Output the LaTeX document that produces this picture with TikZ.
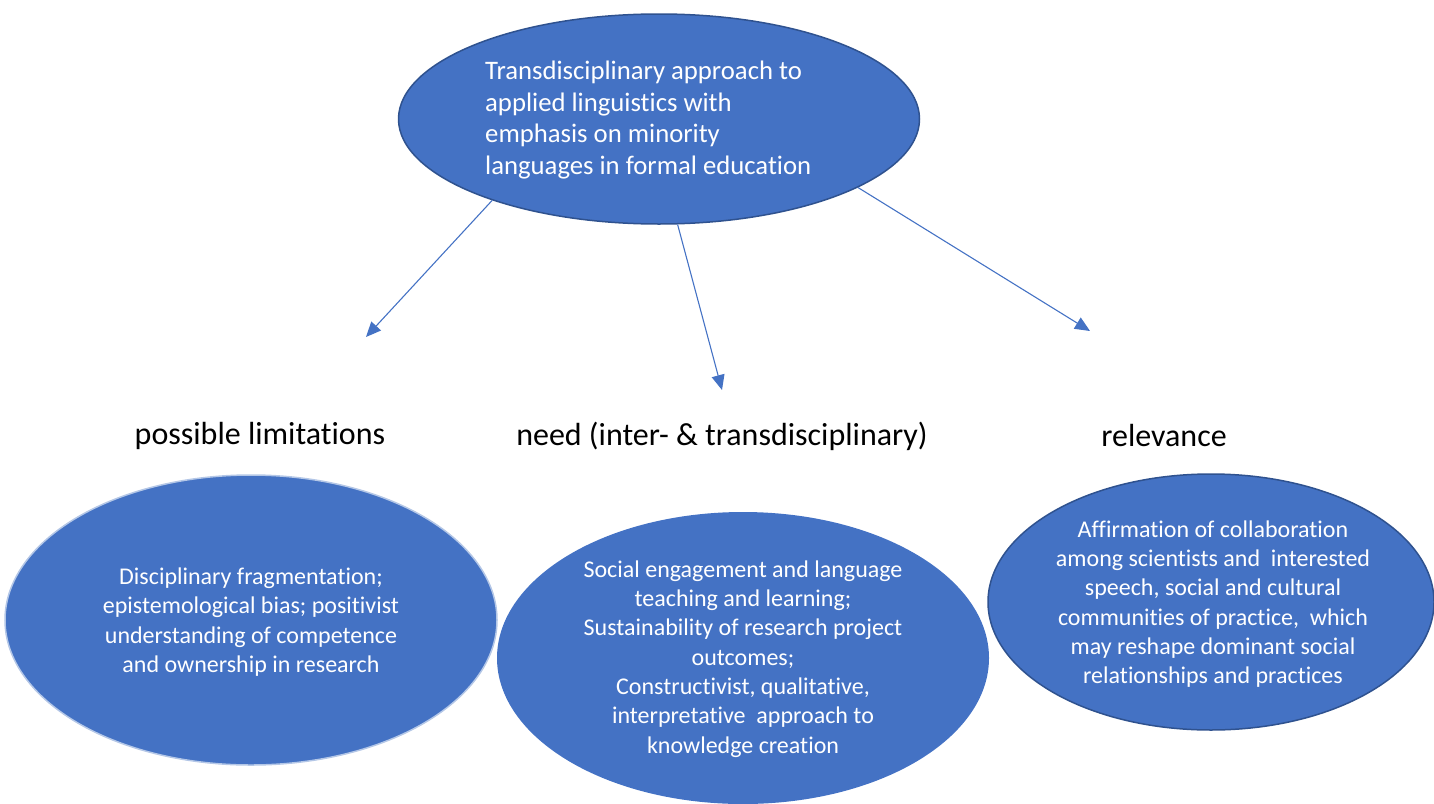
\documentclass[tikz,border=0pt]{standalone}
\usepackage{fontspec}
\setmainfont{Carlito}[RawFeature={-liga;-clig}]
\usetikzlibrary{arrows.meta,shapes.geometric}
\definecolor{ofill}{HTML}{4472C4}
\definecolor{odark}{HTML}{2F528F}
\definecolor{olight}{HTML}{B4C7E7}
\begin{document}
\begin{tikzpicture}[x=1pt,y=-1pt,
  blob/.style={ellipse, fill=ofill, inner sep=0pt},
  blobtext/.style={text=white, align=center, inner sep=0pt, font=\fontsize{24}{29.3}\selectfont},
  heading/.style={text=black, inner sep=0pt, font=\fontsize{32}{36}\selectfont},
  conn/.style={draw=ofill, line width=1.1pt, -{Triangle[length=15pt,width=13pt]}}
]
\useasboundingbox (0,0) rectangle (1434,803);
% top ellipse
\node[blob, draw=odark, line width=1.5pt, minimum width=521pt, minimum height=210pt] (top) at (659,119) {};
\node[text=white, align=left, anchor=west, inner sep=0pt, font=\fontsize{26.7}{31.7}\selectfont] (toptext) at (485,120)
  {Transdisciplinary approach to\\applied linguistics with\\emphasis on minority\\languages in formal education};
% headings
\node[heading] (h1) at (260,436) {possible limitations};
\node[heading] (h2) at (722,436) {need (inter- \& transdisciplinary)};
\node[heading] (h3) at (1164,436) {relevance};
% arrow ends
\coordinate (e1) at (366,337);
\coordinate (e2) at (722,390);
\coordinate (e3) at (1090,331);
\draw[conn] (top.206) -- (e1);
\draw[conn] (top.280.7) -- (e2);
\draw[conn] (top.341.7) -- (e3);
% bottom ellipses
\node[blob, draw=olight, line width=1.5pt, minimum width=492pt, minimum height=290pt] (left) at (251,620) {};
\node[blobtext] (lefttext) at (251,622)
  {Disciplinary fragmentation;\\epistemological bias; positivist\\understanding of competence\\and ownership in research};
\node[blob, minimum width=492pt, minimum height=292pt] (mid) at (743,658) {};
\node[blobtext] (midtext) at (743,659)
  {Social engagement and language\\teaching and learning;\\Sustainability of research project\\outcomes;\\Constructivist, qualitative,\\interpretative\ \ approach to\\knowledge creation};
\node[blob, draw=odark, line width=1.5pt, minimum width=446pt, minimum height=256pt] (right) at (1211,602) {};
\node[blobtext] (righttext) at (1213,604)
  {Affirmation of collaboration\\among scientists and\ \ interested\\speech, social and cultural\\communities of practice,\ \ which\\may reshape dominant social\\relationships and practices};
\end{tikzpicture}
\end{document}
